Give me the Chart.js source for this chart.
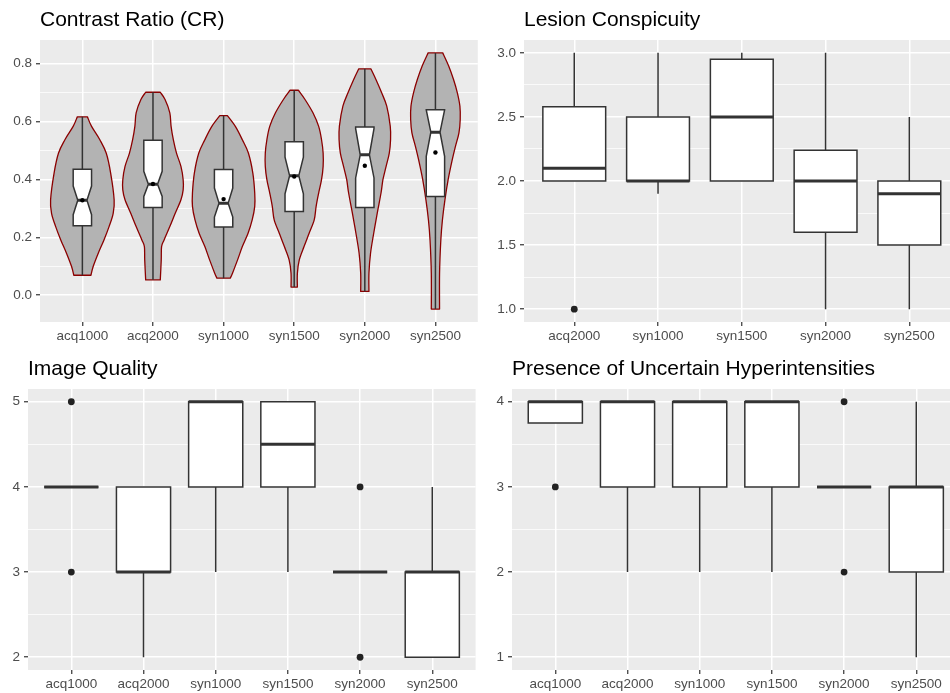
<!DOCTYPE html>
<html>
<head>
<meta charset="utf-8">
<script src="https://cdn.jsdelivr.net/npm/chart.js@4.4.0/dist/chart.umd.min.js"></script>
<style>
  html, body { margin: 0; padding: 0; background: #fff; width: 950px; height: 693px; overflow: hidden; }
  canvas { position: absolute; }
</style>
</head>
<body>
<canvas id="cr" width="480" height="344" style="left:0px;top:0px"></canvas>
<canvas id="lc" width="483" height="344" style="left:480px;top:0px"></canvas>
<canvas id="iq" width="479" height="343" style="left:0px;top:349px"></canvas>
<canvas id="pu" width="484" height="343" style="left:479px;top:349px"></canvas>
<script>
// ---------- Contrast Ratio (CR): notched boxes inside violins ----------
const crCategories   = ['acq1000', 'acq2000', 'syn1000', 'syn1500', 'syn2000', 'syn2500'];
const crQ1           = [0.240, 0.303, 0.236, 0.289, 0.303, 0.341];
const crMedian       = [0.328, 0.383, 0.318, 0.413, 0.485, 0.563];
const crQ3           = [0.435, 0.535, 0.434, 0.530, 0.581, 0.641];
const crNotchLow     = [0.278, 0.341, 0.270, 0.350, 0.405, 0.480];
const crNotchHigh    = [0.377, 0.428, 0.370, 0.477, 0.575, 0.640];
const crWhiskerLow   = [0.069, 0.053, 0.059, 0.028, 0.013, -0.048];
const crWhiskerHigh  = [0.616, 0.701, 0.620, 0.708, 0.782, 0.837];
const crMean         = [0.328, 0.384, 0.332, 0.410, 0.447, 0.493];
const crYTicks       = [0.0, 0.2, 0.4, 0.6, 0.8];
const crYMinor       = [0.1, 0.3, 0.5, 0.7];

// violin outlines: [CR value, relative half-width (1 = widest allowed)]
const violinAcq1000 = [[0.616,0.16],[0.583,0.29],[0.537,0.55],[0.491,0.75],[0.422,0.89],[0.330,1.00],[0.283,0.97],[0.237,0.84],[0.191,0.68],[0.145,0.50],[0.099,0.34],[0.069,0.27]];
const violinAcq2000 = [[0.701,0.23],[0.676,0.38],[0.630,0.53],[0.583,0.57],[0.537,0.64],[0.491,0.74],[0.445,0.88],[0.399,0.95],[0.364,0.95],[0.330,0.88],[0.283,0.70],[0.237,0.53],[0.191,0.35],[0.168,0.27],[0.122,0.26],[0.053,0.23]];
const violinSyn1000 = [[0.620,0.12],[0.583,0.37],[0.537,0.59],[0.491,0.78],[0.422,0.92],[0.353,0.98],[0.307,0.98],[0.260,0.90],[0.214,0.77],[0.168,0.59],[0.122,0.44],[0.076,0.28],[0.059,0.21]];
const violinSyn1500 = [[0.708,0.13],[0.676,0.34],[0.630,0.59],[0.583,0.77],[0.537,0.86],[0.491,0.91],[0.445,0.91],[0.399,0.86],[0.353,0.77],[0.307,0.69],[0.260,0.63],[0.214,0.47],[0.168,0.31],[0.122,0.16],[0.076,0.10],[0.028,0.10]];
const violinSyn2000 = [[0.782,0.19],[0.745,0.35],[0.699,0.53],[0.653,0.69],[0.584,0.80],[0.537,0.81],[0.491,0.77],[0.445,0.67],[0.399,0.57],[0.353,0.51],[0.283,0.39],[0.214,0.28],[0.145,0.18],[0.076,0.13],[0.013,0.13]];
const violinSyn2500 = [[0.837,0.23],[0.791,0.42],[0.745,0.57],[0.699,0.69],[0.653,0.77],[0.607,0.78],[0.561,0.74],[0.514,0.63],[0.468,0.53],[0.399,0.40],[0.330,0.30],[0.260,0.22],[0.191,0.17],[0.076,0.13],[-0.048,0.13]];

// ---------- Lesion Conspicuity ----------
const lcCategories = ['acq2000', 'syn1000', 'syn1500', 'syn2000', 'syn2500'];
const lcQ1         = [2.00, 2.00, 2.00, 1.60, 1.50];
const lcMedian     = [2.10, 2.00, 2.50, 2.00, 1.90];
const lcQ3         = [2.58, 2.50, 2.95, 2.24, 2.00];
const lcLow        = [2.00, 1.90, 2.00, 1.00, 1.00];
const lcHigh       = [3.00, 3.00, 3.00, 3.00, 2.50];
const lcOutliers   = [[0, 1.0]];
const lcYTicks     = [1.0, 1.5, 2.0, 2.5, 3.0];
const lcYMinor     = [1.25, 1.75, 2.25, 2.75];

// ---------- Image Quality ----------
const iqCategories = ['acq1000', 'acq2000', 'syn1000', 'syn1500', 'syn2000', 'syn2500'];
const iqQ1         = [4, 3, 4, 4.0, 3, 2];
const iqMedian     = [4, 3, 5, 4.5, 3, 3];
const iqQ3         = [4, 4, 5, 5.0, 3, 3];
const iqLow        = [4, 2, 3, 3.0, 3, 2];
const iqHigh       = [4, 4, 5, 5.0, 3, 4];
const iqOutliers   = [[0, 5], [0, 3], [4, 4], [4, 2]];
const iqYTicks     = [2, 3, 4, 5];
const iqYMinor     = [2.5, 3.5, 4.5];

// ---------- Presence of Uncertain Hyperintensities ----------
const puCategories = ['acq1000', 'acq2000', 'syn1000', 'syn1500', 'syn2000', 'syn2500'];
const puQ1         = [3.75, 3, 3, 3, 3, 2];
const puMedian     = [4.00, 4, 4, 4, 3, 3];
const puQ3         = [4.00, 4, 4, 4, 3, 3];
const puLow        = [3.75, 2, 2, 2, 3, 1];
const puHigh       = [4.00, 4, 4, 4, 3, 4];
const puOutliers   = [[0, 3], [4, 4], [4, 2]];
const puYTicks     = [1, 2, 3, 4];
const puYMinor     = [1.5, 2.5, 3.5];

// ---------- shared styling ----------
const FONT_FAMILY = '"Liberation Sans", Arial, Helvetica, sans-serif';
const TICK_FONT = { family: FONT_FAMILY, size: 13.5 };
const TICK_COLOR = '#4d4d4d';
const INK = '#333333';
const PANEL_BG = '#ebebeb';

function xAxis(cats, height) {
  return {
    type: 'linear',
    bounds: 'data',
    min: -0.6,
    max: cats.length - 0.4,
    afterBuildTicks: s => { s.ticks = cats.map((c, i) => ({ value: i })); },
    afterFit: s => { s.height = height; },
    ticks: {
      autoSkip: false, maxRotation: 0, minRotation: 0, padding: 2,
      color: TICK_COLOR, font: TICK_FONT,
      callback: v => cats[v]
    },
    grid: { color: '#ffffff', lineWidth: 1.5, tickColor: INK, tickLength: 4, tickWidth: 1.2 },
    border: { display: false }
  };
}

function yAxis(min, max, majors, minors, digits, width) {
  const isMajor = v => majors.some(m => Math.abs(m - v) < 1e-9);
  const all = majors.concat(minors).sort((a, b) => a - b);
  return {
    type: 'linear',
    bounds: 'data',
    min: min,
    max: max,
    afterBuildTicks: s => { s.ticks = all.map(v => ({ value: v })); },
    afterFit: s => { s.width = width; },
    ticks: {
      autoSkip: false, padding: 4,
      color: TICK_COLOR, font: TICK_FONT,
      callback: v => isMajor(v) ? v.toFixed(digits) : ''
    },
    grid: {
      color: '#ffffff',
      lineWidth: c => (c.tick && isMajor(c.tick.value)) ? 1.5 : 0.75,
      tickColor: c => (c.tick && isMajor(c.tick.value)) ? INK : 'rgba(0,0,0,0)',
      tickLength: 4,
      tickWidth: 1.2
    },
    border: { display: false }
  };
}

// grey panel behind the grid
const panelBackground = {
  id: 'panelBackground',
  beforeDraw(chart) {
    const a = chart.chartArea, ctx = chart.ctx;
    ctx.save();
    ctx.fillStyle = PANEL_BG;
    ctx.fillRect(a.left, a.top, a.right - a.left, a.bottom - a.top);
    ctx.restore();
  }
};

// Catmull-Rom curve through outline points
function curveThrough(ctx, pts) {
  for (let i = 0; i < pts.length - 1; i++) {
    const p0 = pts[i - 1] || pts[i], p1 = pts[i], p2 = pts[i + 1], p3 = pts[i + 2] || p2;
    ctx.bezierCurveTo(
      p1.x + (p2.x - p0.x) / 6, p1.y + (p2.y - p0.y) / 6,
      p2.x - (p3.x - p1.x) / 6, p2.y - (p3.y - p1.y) / 6,
      p2.x, p2.y);
  }
}

// boxplot layer: optional violins, whiskers, boxes (optionally notched), medians
function boxLayer(stats) {
  return {
    id: 'boxLayer',
    beforeDatasetsDraw(chart) {
      const ctx = chart.ctx, xs = chart.scales.x, ys = chart.scales.y;
      const X = v => xs.getPixelForValue(v), Y = v => ys.getPixelForValue(v);
      ctx.save();
      ctx.beginPath();
      ctx.rect(chart.chartArea.left, chart.chartArea.top,
               chart.chartArea.right - chart.chartArea.left, chart.chartArea.bottom - chart.chartArea.top);
      ctx.clip();

      stats.median.forEach((med, i) => {
        // violin
        if (stats.violins) {
          const prof = stats.violins[i];
          const right = prof.map(([v, w]) => ({ x: X(i + w * stats.violinHalf), y: Y(v) }));
          const left = prof.map(([v, w]) => ({ x: X(i - w * stats.violinHalf), y: Y(v) })).reverse();
          ctx.beginPath();
          ctx.moveTo(right[0].x, right[0].y);
          curveThrough(ctx, right);
          ctx.lineTo(left[0].x, left[0].y);
          curveThrough(ctx, left);
          ctx.closePath();
          ctx.fillStyle = '#b3b3b3';
          ctx.fill();
          ctx.lineWidth = 1.3;
          ctx.lineJoin = 'round';
          ctx.strokeStyle = '#8b0000';
          ctx.stroke();
        }

        const h = stats.boxHalf;
        const xl = X(i - h), xr = X(i + h), xc = X(i);
        const q1 = Y(stats.q1[i]), q3 = Y(stats.q3[i]), m = Y(med);

        // whiskers
        ctx.strokeStyle = INK;
        ctx.lineWidth = 1.5;
        ctx.lineCap = 'butt';
        ctx.beginPath();
        if (stats.high[i] > stats.q3[i]) { ctx.moveTo(xc, q3); ctx.lineTo(xc, Y(stats.high[i])); }
        if (stats.low[i] < stats.q1[i]) { ctx.moveTo(xc, q1); ctx.lineTo(xc, Y(stats.low[i])); }
        ctx.stroke();

        // box
        ctx.beginPath();
        let ml = xl, mr = xr;
        if (stats.notchLow) {
          const inset = (xr - xl) / 4;
          const nh = Y(stats.notchHigh[i]), nl = Y(stats.notchLow[i]);
          ml = xl + inset; mr = xr - inset;
          ctx.moveTo(xl, q3); ctx.lineTo(xr, q3); ctx.lineTo(xr, nh); ctx.lineTo(mr, m);
          ctx.lineTo(xr, nl); ctx.lineTo(xr, q1); ctx.lineTo(xl, q1); ctx.lineTo(xl, nl);
          ctx.lineTo(ml, m); ctx.lineTo(xl, nh); ctx.closePath();
        } else {
          ctx.rect(xl, q3, xr - xl, q1 - q3);
        }
        ctx.fillStyle = '#ffffff';
        ctx.fill();
        ctx.lineJoin = 'miter';
        ctx.stroke();

        // median
        ctx.beginPath();
        ctx.lineWidth = 3;
        ctx.moveTo(ml, m); ctx.lineTo(mr, m);
        ctx.stroke();
      });
      ctx.restore();
    }
  };
}

function makePanel(id, title, cats, yScale, stats, points, pointRadius, pointColor) {
  new Chart(document.getElementById(id), {
    type: 'scatter',
    data: {
      datasets: [{
        data: points,
        pointRadius: pointRadius,
        pointHoverRadius: pointRadius,
        pointBackgroundColor: pointColor,
        pointBorderWidth: 0,
        showLine: false
      }]
    },
    options: {
      responsive: false,
      animation: false,
      events: [],
      layout: { padding: 0 },
      scales: { x: xAxis(cats, 22), y: yScale },
      plugins: {
        legend: { display: false },
        tooltip: { enabled: false },
        title: {
          display: true,
          text: title,
          align: 'start',
          fullSize: false,
          color: '#000000',
          font: { family: FONT_FAMILY, size: 21, weight: 'normal', lineHeight: 1.2 },
          padding: { top: 8, bottom: 6.8 }
        }
      }
    },
    plugins: [panelBackground, boxLayer(stats)]
  });
}

makePanel('cr', 'Contrast Ratio (CR)', crCategories,
  yAxis(-0.0925, 0.8815, crYTicks, crYMinor, 1, 40),
  { q1: crQ1, median: crMedian, q3: crQ3, low: crWhiskerLow, high: crWhiskerHigh,
    notchLow: crNotchLow, notchHigh: crNotchHigh, boxHalf: 0.13, violinHalf: 0.45,
    violins: [violinAcq1000, violinAcq2000, violinSyn1000, violinSyn1500, violinSyn2000, violinSyn2500] },
  crMean.map((v, i) => ({ x: i, y: v })), 2.2, '#000000');

makePanel('lc', 'Lesion Conspicuity', lcCategories,
  yAxis(0.9, 3.1, lcYTicks, lcYMinor, 1, 44),
  { q1: lcQ1, median: lcMedian, q3: lcQ3, low: lcLow, high: lcHigh, boxHalf: 0.375 },
  lcOutliers.map(([i, v]) => ({ x: i, y: v })), 3.4, '#222222');

makePanel('iq', 'Image Quality', iqCategories,
  yAxis(1.85, 5.15, iqYTicks, iqYMinor, 0, 28),
  { q1: iqQ1, median: iqMedian, q3: iqQ3, low: iqLow, high: iqHigh, boxHalf: 0.375 },
  iqOutliers.map(([i, v]) => ({ x: i, y: v })), 3.4, '#222222');

makePanel('pu', 'Presence of Uncertain Hyperintensities', puCategories,
  yAxis(0.85, 4.15, puYTicks, puYMinor, 0, 33),
  { q1: puQ1, median: puMedian, q3: puQ3, low: puLow, high: puHigh, boxHalf: 0.375 },
  puOutliers.map(([i, v]) => ({ x: i, y: v })), 3.4, '#222222');
</script>
</body>
</html>
